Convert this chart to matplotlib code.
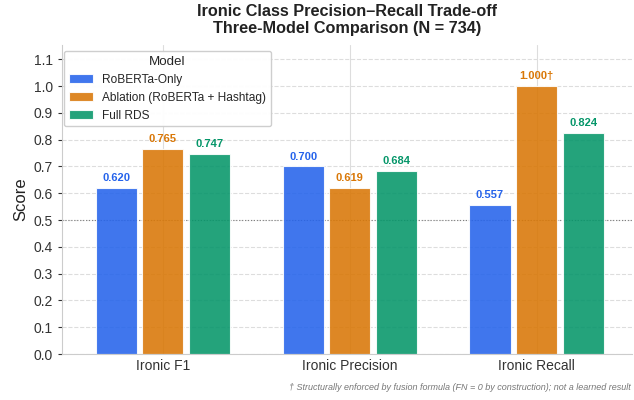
import numpy as np
import matplotlib
matplotlib.use("Agg")
import matplotlib.pyplot as plt
import seaborn as sns

sns.set_style("whitegrid")
plt.rcParams['font.family'] = ['Liberation Sans', 'DejaVu Sans']

metrics = ["Ironic F1", "Ironic Precision", "Ironic Recall"]
models = ["RoBERTa-Only", "Ablation (RoBERTa + Hashtag)", "Full RDS"]
roberta = [0.620, 0.700, 0.557]
ablation = [0.765, 0.619, 1.000]
full_rds = [0.747, 0.684, 0.824]
colors = ["#2563EB", "#D97706", "#059669"]

fig = plt.figure(figsize=(6.34, 4.0), dpi=100)
ax = fig.add_axes([62 / 634, 1 - 354 / 400, 570 / 634, 309 / 400])

x = np.arange(len(metrics))
w = 0.22
off = 0.25
series = [roberta, ablation, full_rds]
for i, (vals, name, c) in enumerate(zip(series, models, colors)):
    pos = x + (i - 1) * off
    ax.bar(pos, vals, w, color=c, alpha=0.88, edgecolor="white", linewidth=0.8, label=name, zorder=2)
    for p, v in zip(pos, vals):
        lab = f"{v:.3f}"
        if v >= 1.0:
            lab += "\u2020"
        ax.text(p, v + 0.018, lab, ha="center", va="bottom", fontsize=8, fontweight="bold", color=c)

ax.axhline(0.5, color="gray", linestyle=":", linewidth=0.8, zorder=1)
ax.set_ylim(0, 1.153)
ax.set_xlim(-0.54, 2.51)
ax.set_yticks(np.arange(0, 1.11, 0.1))
ax.set_yticklabels([f"{t:.1f}" for t in np.arange(0, 1.11, 0.1)])
ax.set_xticks(x)
ax.set_xticklabels(metrics, fontsize=10)
ax.tick_params(axis="y", labelsize=10, colors="#333333", length=3, width=0.8, left=True)
ax.tick_params(axis="x", colors="#333333", length=0)
ax.set_ylabel("Score", fontsize=12, color="#222222")
ax.yaxis.grid(True, linestyle="--", color="#dddddd", linewidth=0.8)
ax.xaxis.grid(True, linestyle="-", color="#dddddd", linewidth=0.8)
for s in ["top", "right"]:
    ax.spines[s].set_visible(False)
for s in ["left", "bottom"]:
    ax.spines[s].set_color("#cccccc")

leg = ax.legend(title="Model", loc="upper left", bbox_to_anchor=(2 / 570, 1 - 6 / 309),
                borderaxespad=0, fontsize=8.6, title_fontsize=9.6,
                frameon=True, framealpha=0.95, edgecolor="#cccccc", fancybox=True)

fig.text(347 / 634, 1 - 20 / 400, "Ironic Class Precision\u2013Recall Trade-off\nThree-Model Comparison (N = 734)",
         ha="center", va="center", fontsize=11.7, fontweight="bold", linespacing=1.1, color="#222222")
fig.text(631 / 634, 1 - 387 / 400,
         "\u2020 Structurally enforced by fusion formula (FN = 0 by construction); not a learned result",
         ha="right", va="center", fontsize=6.5, style="italic", color="#777777")

plt.savefig("out.png", dpi=100)
